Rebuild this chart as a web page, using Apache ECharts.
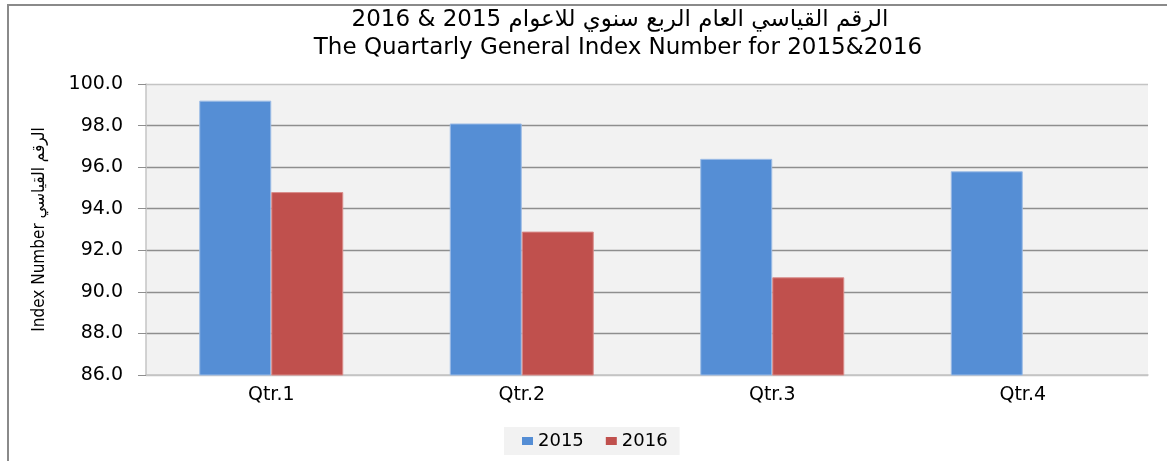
<!DOCTYPE html>
<html>
<head>
<meta charset="utf-8">
<script src="https://cdn.jsdelivr.net/npm/echarts@6/dist/echarts.min.js"></script>
<style>
    html, body { margin: 0; padding: 0; background: #fff; }
    #main { width: 1167px; height: 461px; }
</style>
</head>
<body>
<div id="main"></div>
<script>
const quarters = ['Qtr.1', 'Qtr.2', 'Qtr.3', 'Qtr.4']
const values2015 = [99.2, 98.1, 96.4, 95.8]
const values2016 = [94.8, 92.9, 90.7, null]
const yMin = 86
const yMax = 100
const yStep = 2

const titleAr = '2016 & 2015 الرقم القياسي العام الربع سنوي للاعوام'
const titleEn = 'The Quartarly General Index Number for 2015&2016'

const font = '"DejaVu Sans", "Liberation Sans", sans-serif'

// top and bottom grid lines are lighter than the inner ones
const splitColors = []
for (let v = yMin; v <= yMax; v += yStep) {
    splitColors.push(v === yMin || v === yMax ? '#C4C4C4' : '#8E8E8E')
}

const chart = echarts.init(document.getElementById('main'))

chart.setOption({
    backgroundColor: '#fff',
    animation: false,
    graphic: [
        {
            type: 'rect',
            shape: { x: 8, y: 5, width: 1200, height: 500 },
            style: { fill: 'none', stroke: '#8A8A8A', lineWidth: 2 },
            z: -1
        },
        {
            type: 'text',
            style: {
                text: titleAr, x: 620, y: 20, align: 'center', verticalAlign: 'middle',
                fontSize: 23, fontFamily: font, fill: '#000'
            }
        },
        {
            type: 'text',
            style: {
                text: titleEn, x: 618, y: 48, align: 'center', verticalAlign: 'middle',
                fontSize: 23, fontFamily: font, fill: '#000'
            }
        }
    ],
    grid: {
        left: 146,
        right: 19,
        top: 84,
        bottom: 86,
        show: true,
        backgroundColor: '#F2F2F2',
        borderWidth: 0
    },
    legend: {
        data: ['2015', '2016'],
        left: 504,
        top: 427,
        padding: [5, 12, 5, 18],
        backgroundColor: '#F2F2F2',
        itemWidth: 11,
        itemHeight: 8,
        itemGap: 22,
        icon: 'rect',
        itemStyle: { borderWidth: 0 },
        textStyle: { fontSize: 18, fontFamily: font, color: '#000' }
    },
    xAxis: {
        type: 'category',
        data: quarters,
        axisLine: { lineStyle: { color: '#C4C4C4', width: 1.5 } },
        axisTick: { show: false },
        axisLabel: { fontSize: 19, fontFamily: font, color: '#000', margin: 11 }
    },
    yAxis: {
        type: 'value',
        min: yMin,
        max: yMax,
        interval: yStep,
        name: 'Index Number الرقم القياسي',
        nameLocation: 'middle',
        nameRotate: 90,
        nameGap: 98,
        nameTextStyle: {
            fontSize: 17,
            fontFamily: '"DejaVu Sans Condensed", "Liberation Sans Narrow", sans-serif',
            color: '#000'
        },
        axisLine: { show: true, lineStyle: { color: '#C4C4C4', width: 1.5 } },
        axisTick: { show: true, length: 8, lineStyle: { color: '#8E8E8E' } },
        axisLabel: {
            fontSize: 19,
            fontFamily: font,
            color: '#000',
            margin: 23,
            formatter: v => v.toFixed(1)
        },
        splitLine: { lineStyle: { color: splitColors, width: 1.3 } }
    },
    series: [
        {
            name: '2015',
            type: 'bar',
            data: values2015,
            barWidth: 72,
            barGap: '0%',
            itemStyle: { color: '#558ED5', borderColor: '#9DBCE6', borderWidth: 1 }
        },
        {
            name: '2016',
            type: 'bar',
            data: values2016,
            barWidth: 72,
            itemStyle: { color: '#C0504D', borderColor: '#D98C8A', borderWidth: 1 }
        }
    ]
})
</script>
</body>
</html>
